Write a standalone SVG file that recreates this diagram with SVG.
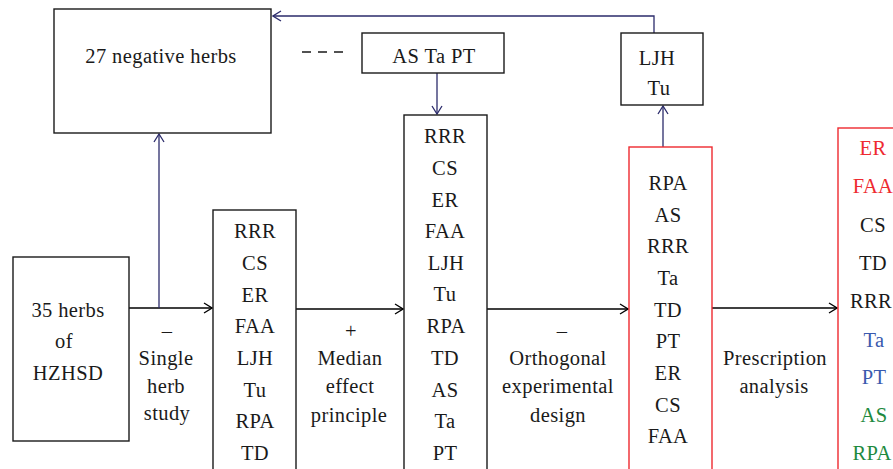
<svg xmlns="http://www.w3.org/2000/svg" width="893" height="469" viewBox="0 0 893 469">
<defs>
<marker id="ak" markerWidth="10" markerHeight="12" refX="9" refY="6" orient="auto" markerUnits="userSpaceOnUse"><path d="M1,1 L9,6 L1,11" fill="none" stroke="#000" stroke-width="1.3"/></marker>
<marker id="an" markerWidth="10" markerHeight="12" refX="9" refY="6" orient="auto" markerUnits="userSpaceOnUse"><path d="M1,1 L9,6 L1,11" fill="none" stroke="#2b2b6b" stroke-width="1.3"/></marker>
</defs>
<style>
text{font-family:'Liberation Serif',serif;font-size:20.5px;letter-spacing:0.4px;fill:#1a1a1a;text-anchor:middle}
.box{fill:#fff;stroke:#1a1a1a;stroke-width:1.4}
.rbox{fill:#fff;stroke:#ee2a30;stroke-width:1.4}
.ck{fill:none;stroke:#000;stroke-width:1.3;marker-end:url(#ak)}
.cna{fill:none;stroke:#2b2b6b;stroke-width:1.3;marker-end:url(#an)}
.r{fill:#ee2a30}.b{fill:#3a5aae}.g{fill:#1e8a3e}
</style>
<g font-family="Liberation Serif, serif">
<g id="connectors">
<path class="ck" d="M129,308 H212"/>
<path class="cna" d="M159,308 V134"/>
<path class="ck" d="M296,309 H403"/>
<path class="ck" d="M487,309 H628"/>
<path class="ck" d="M712,308 H837"/>
<path class="cna" d="M437,73 V114"/>
<path class="cna" d="M663,147 V106"/>
<path class="cna" d="M654,33 V16 H273"/>
<path d="M302,52 H343" fill="none" stroke="#1a1a1a" stroke-width="1.3" stroke-dasharray="9,7"/>
</g>
<g id="negative">
<rect class="box" x="54" y="9" width="217" height="124"/>
<text x="161" y="63">27 negative herbs</text>
</g>
<g id="astapt">
<rect class="box" x="362" y="33" width="142" height="40"/>
<text x="434" y="63">AS Ta PT</text>
</g>
<g id="ljhtu">
<rect class="box" x="621" y="33" width="82" height="72"/>
<text x="657" y="65">LJH</text>
<text x="659" y="95">Tu</text>
</g>
<g id="hzhsd">
<rect class="box" x="13" y="257" width="116" height="184"/>
<text x="68" y="317">35 herbs</text>
<text x="64" y="348">of</text>
<text x="68" y="380">HZHSD</text>
</g>
<g id="label1">
<text x="167" y="338">–</text>
<text x="166" y="365">Single</text>
<text x="166" y="393">herb</text>
<text x="167" y="420">study</text>
</g>
<g id="single">
<rect class="box" x="213" y="210" width="83" height="270"/>
<text x="255" y="238">RRR</text>
<text x="255" y="270">CS</text>
<text x="255" y="302">ER</text>
<text x="255" y="333">FAA</text>
<text x="255" y="365">LJH</text>
<text x="255" y="397">Tu</text>
<text x="255" y="428">RPA</text>
<text x="255" y="460">TD</text>
</g>
<g id="label2">
<text x="351" y="338">+</text>
<text x="350" y="365">Median</text>
<text x="350" y="393">effect</text>
<text x="349" y="422">principle</text>
</g>
<g id="median">
<rect class="box" x="404" y="115" width="83" height="365"/>
<text x="445" y="143">RRR</text>
<text x="445" y="175">CS</text>
<text x="445" y="207">ER</text>
<text x="445" y="238">FAA</text>
<text x="446" y="270">LJH</text>
<text x="445" y="301">Tu</text>
<text x="446" y="333">RPA</text>
<text x="445" y="365">TD</text>
<text x="445" y="397">AS</text>
<text x="445" y="428">Ta</text>
<text x="445" y="460">PT</text>
</g>
<g id="label3">
<text x="562" y="338">–</text>
<text x="558" y="365">Orthogonal</text>
<text x="558" y="393">experimental</text>
<text x="558" y="422">design</text>
</g>
<g id="orthogonal">
<rect class="rbox" x="629" y="147" width="83" height="333"/>
<text x="668" y="190">RPA</text>
<text x="668" y="222">AS</text>
<text x="668" y="253">RRR</text>
<text x="668" y="285">Ta</text>
<text x="668" y="317">TD</text>
<text x="668" y="348">PT</text>
<text x="668" y="380">ER</text>
<text x="668" y="412">CS</text>
<text x="668" y="443">FAA</text>
</g>
<g id="label4">
<text x="775" y="365">Prescription</text>
<text x="774" y="393">analysis</text>
</g>
<g id="prescription">
<rect class="rbox" x="838" y="128" width="70" height="360"/>
<text class="r" x="873" y="155">ER</text>
<text class="r" x="873" y="193">FAA</text>
<text x="873" y="232">CS</text>
<text x="873" y="270">TD</text>
<text x="871" y="308">RRR</text>
<text class="b" x="874" y="347">Ta</text>
<text class="b" x="874" y="384">PT</text>
<text class="g" x="874" y="422">AS</text>
<text class="g" x="872" y="460">RPA</text>
</g>
</g>
</svg>
